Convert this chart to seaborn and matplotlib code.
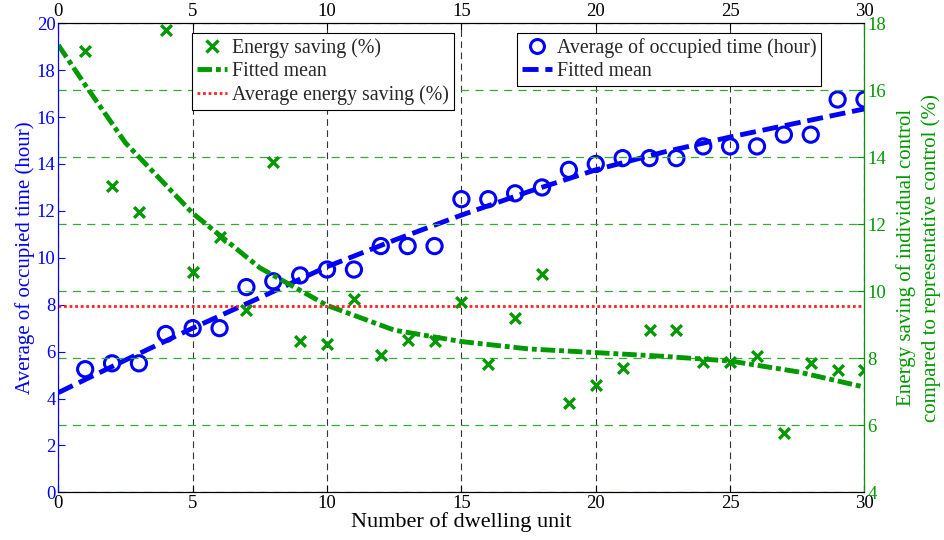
import numpy as np
import pandas as pd
import seaborn as sns
import matplotlib
matplotlib.use("Agg")
import matplotlib.pyplot as plt
from matplotlib.lines import Line2D

# ---------------- data ----------------
units = list(range(1, 31))
occupied_time = [5.25, 5.5, 5.5, 6.75, 7.0, 7.0, 8.75, 9.0, 9.25, 9.5,
                 9.5, 10.5, 10.5, 10.5, 12.5, 12.5, 12.75, 13.0, 13.75, 14.0,
                 14.25, 14.25, 14.25, 14.75, 14.75, 14.75, 15.25, 15.25, 16.75, 16.75]
energy_saving = [17.18, 13.14, 12.38, 17.8, 10.57, 11.63, 9.44, 13.87, 8.52, 8.42,
                 9.76, 8.10, 8.55, 8.52, 9.69, 7.82, 9.19, 10.52, 6.66, 7.2,
                 7.72, 8.84, 8.84, 7.9, 7.9, 8.08, 5.76, 7.85, 7.65, 7.65]
fit_time_x = [0, 2.5, 5, 7.5, 10, 12.5, 15, 17.5, 20, 22.5, 25, 27.5, 30]
fit_time_y = [4.25, 5.64, 7.0, 8.3, 9.62, 10.75, 11.82, 12.82, 13.75, 14.5, 15.15, 15.75, 16.35]
fit_save_x = [0, 1, 2.5, 5, 7.5, 10, 12.5, 15, 17.5, 20, 22.5, 25, 27.5, 30]
fit_save_y = [17.35, 16.16, 14.43, 12.33, 10.7, 9.58, 8.84, 8.5, 8.28, 8.17, 8.06, 7.92, 7.6, 7.14]
avg_saving = 9.57
x_ticks = [0, 5, 10, 15, 20, 25, 30]
left_ticks = [0, 2, 4, 6, 8, 10, 12, 14, 16, 18, 20]
right_ticks = [4, 6, 8, 10, 12, 14, 16, 18]

df_pts = pd.DataFrame({"unit": units, "time": occupied_time, "saving": energy_saving})
df_ft = pd.DataFrame({"x": fit_time_x, "y": fit_time_y})
df_fs = pd.DataFrame({"x": fit_save_x, "y": fit_save_y})
df_avg = pd.DataFrame({"x": [0, 30], "y": [avg_saving, avg_saving]})

# ---------------- style ----------------
sns.set_theme(style="white")
plt.rcParams['font.family'] = ['Liberation Serif', 'DejaVu Serif']

BLUE = '#0000ff'
GREEN = '#009900'
GRIDGREEN = '#33aa33'
RED = '#ff2020'

BLUE_DASH = (3.3, 1.4)
GREEN_DASH = (3.0, 0.8, 1.0, 0.8)
RED_DOT = (1, 1.0)

fig = plt.figure(figsize=(9.45, 5.4), dpi=100)
ax = fig.add_axes([0.0617, 0.0883, 0.8531, 0.8686])
ax2 = ax.twinx()

# left axis: occupied time
sns.lineplot(data=df_ft, x="x", y="y", ax=ax, color=BLUE, linewidth=3.5,
             label="Fitted mean", legend=False)
ax.lines[-1].set_dashes(BLUE_DASH)
sns.scatterplot(data=df_pts, x="unit", y="time", ax=ax, marker='o', s=120,
                facecolors='none', edgecolor=BLUE, linewidth=2.2,
                label="Average of occupied time (hour)", legend=False, zorder=3)

# right axis: energy saving
sns.scatterplot(data=df_pts, x="unit", y="saving", ax=ax2, marker='x', s=60,
                color=GREEN, linewidth=2.4, label="Energy saving (%)",
                legend=False, zorder=3)
sns.lineplot(data=df_fs, x="x", y="y", ax=ax2, color=GREEN, linewidth=3.5,
             label="Fitted mean", legend=False)
ax2.lines[-1].set_dashes(GREEN_DASH)
sns.lineplot(data=df_avg, x="x", y="y", ax=ax2, color=RED, linewidth=2.0,
             label="Average energy saving (%)", legend=False)
ax2.lines[-1].set_dashes(RED_DOT)

# limits/ticks
ax.set_xlim(0, 30)
ax.set_ylim(0, 20)
ax2.set_ylim(4, 18)
ax.set_xticks(x_ticks)
ax.set_yticks(left_ticks)
ax2.set_yticks(right_ticks)

# grids
for xv in x_ticks:
    ax.axvline(xv, color='#333333', lw=0.8, dashes=(6, 4), zorder=0.5)
for yv in right_ticks:
    ax2.axhline(yv, color=GRIDGREEN, lw=0.9, dashes=(6.5, 5), zorder=0.5)

# ticks & labels
ax.tick_params(axis='x', direction='in', top=True, labeltop=True, bottom=True,
               colors='black', labelsize=13.5, length=5, width=0.8, pad=2)
ax.tick_params(axis='y', direction='in', left=True, colors=BLUE, labelsize=13.5,
               length=5, width=0.8, pad=2)
ax2.tick_params(axis='y', direction='in', right=True, colors=GREEN, labelsize=13.5,
                length=5, width=0.8, pad=2)
ax.set_xlabel("Number of dwelling unit", fontsize=16, color='black', labelpad=0)
ax.set_ylabel("Average of occupied time (hour)", fontsize=15, color=BLUE, labelpad=1)
ax2.set_ylabel("Energy saving of individual control\ncompared to representative control (%)",
               fontsize=15, color=GREEN, labelpad=7, linespacing=1.35)

for a in (ax, ax2):
    for s in a.spines.values():
        s.set_linewidth(0.8)
        s.set_color('black')
ax.spines['left'].set_color(BLUE)
ax2.spines['left'].set_color(BLUE)
ax2.spines['right'].set_color(GREEN)
ax.set_facecolor('white')

# legends
h_es = Line2D([], [], marker='x', color=GREEN, ls='none', markersize=8, markeredgewidth=2.4)
h_fs = Line2D([], [], color=GREEN, lw=3.5, dashes=GREEN_DASH)
h_avg = Line2D([], [], color=RED, lw=2.0, dashes=RED_DOT)
h_ot = Line2D([], [], marker='o', color=BLUE, ls='none', markersize=10,
              markerfacecolor='none', markeredgewidth=2.2)
h_ft = Line2D([], [], color=BLUE, lw=3.5, dashes=BLUE_DASH)

leg_kw = dict(fontsize=14.3, frameon=True, fancybox=False, framealpha=1,
              edgecolor='black', borderaxespad=0, handlelength=1.5,
              handletextpad=0.25, borderpad=0.25, labelspacing=0.22)
leg1 = ax2.legend([h_es, h_fs, h_avg],
                  ["Energy saving (%)", "Fitted mean", "Average energy saving (%)"],
                  loc='upper left', bbox_to_anchor=(0.166, 0.979), **leg_kw)
leg1.get_frame().set_linewidth(0.8)
ax2.add_artist(leg1)
leg2 = ax2.legend([h_ot, h_ft], ["Average of occupied time (hour)", "Fitted mean"],
                  loc='upper left', bbox_to_anchor=(0.569, 0.979), **leg_kw)
leg2.get_frame().set_linewidth(0.8)

fig.savefig("out.png", dpi=100)
